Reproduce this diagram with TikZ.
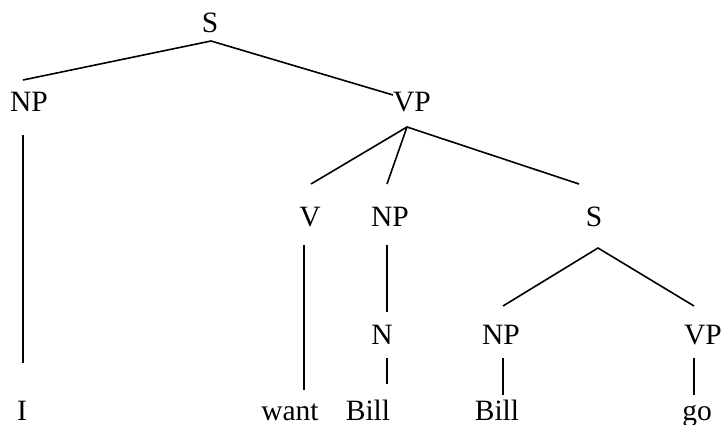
\documentclass[tikz,border=0pt]{standalone}
\usepackage{fontspec}
\setmainfont{Liberation Serif}
\begin{document}
\begin{tikzpicture}[x=1pt,y=-1pt,
  lbl/.style={anchor=base,inner sep=0pt,font=\fontsize{29.5}{35}\selectfont},
  edge/.style={line width=1.6pt,line cap=butt}]
\useasboundingbox (0,0) rectangle (721,425);
% labels
\node[lbl] (S0) at (210,33) {S};
\node[lbl] (NP1) at (29,112) {NP};
\node[lbl] (VP1) at (412,112) {VP};
\node[lbl] (I) at (22,420) {I};
\node[lbl] (V) at (310,227) {V};
\node[lbl] (NP2) at (390,227) {NP};
\node[lbl] (S2) at (594,227) {S};
\node[lbl] (want) at (290,420) {want};
\node[lbl] (N) at (382,344) {N};
\node[lbl] (NP3) at (501,344) {NP};
\node[lbl] (VP3) at (703,344) {VP};
\node[lbl] (Bill1) at (368,420) {Bill};
\node[lbl] (Bill2) at (497,420) {Bill};
\node[lbl] (go) at (697,420) {go};
% connector end points
\coordinate (S0b) at (211,41);
\coordinate (NP1t) at (23,80);
\coordinate (VP1t) at (393,95);
\coordinate (NP1b) at (23,135);
\coordinate (It) at (23,363);
\coordinate (VP1b) at (407,127);
\coordinate (Vt) at (311,184);
\coordinate (NP2t) at (387,184);
\coordinate (S2t) at (579,184);
\coordinate (Vb) at (304,245);
\coordinate (wantt) at (304,390);
\coordinate (NP2b) at (387,245);
\coordinate (Nt) at (387,312);
\coordinate (Nb) at (387,358);
\coordinate (Bill1t) at (387,384);
\coordinate (S2b) at (598,248);
\coordinate (NP3t) at (503,306);
\coordinate (VP3t) at (694,306);
\coordinate (NP3b) at (503,358);
\coordinate (Bill2t) at (503,395);
\coordinate (VP3b) at (694,358);
\coordinate (got) at (694,395);
% connectors
\draw[edge] (NP1t) -- (S0b) -- (VP1t);
\draw[edge] (NP1b) -- (It);
\draw[edge] (Vt) -- (VP1b) -- (S2t);
\draw[edge] (VP1b) -- (NP2t);
\draw[edge] (Vb) -- (wantt);
\draw[edge] (NP2b) -- (Nt);
\draw[edge] (Nb) -- (Bill1t);
\draw[edge] (NP3t) -- (S2b) -- (VP3t);
\draw[edge] (NP3b) -- (Bill2t);
\draw[edge] (VP3b) -- (got);
\end{tikzpicture}
\end{document}
